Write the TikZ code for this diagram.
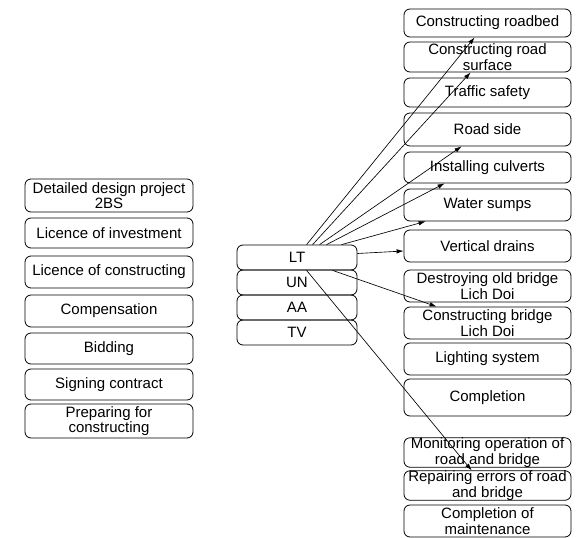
\documentclass[tikz,border=0pt]{standalone}
\usepackage{fontspec}
\setmainfont{Liberation Sans}
\usetikzlibrary{arrows.meta}
\tikzset{
  task/.style={draw=black, line width=0.8pt, rounded corners=6pt, inner sep=0pt, align=center,
    font=\fontsize{15}{15.5}\selectfont},
  lefttask/.style={task, minimum width=168pt},
  righttask/.style={task, minimum width=167pt},
  unit/.style={task, minimum width=120pt, minimum height=25pt},
  link/.style={line width=0.65pt, draw=black, -{Latex[length=7pt,width=4.5pt]}},
}

\begin{document}
\begin{tikzpicture}[x=1pt,y=-1pt]
\useasboundingbox (0,0) rectangle (579,538);
% preparation stage
\node[lefttask, minimum height=33pt] (design) at (109,195.5) {Detailed design project\\2BS};
\node[lefttask, minimum height=30pt] (invest) at (109,233) {Licence of investment};
\node[lefttask, minimum height=32pt] (licence) at (109,272) {Licence of constructing};
\node[lefttask, minimum height=32pt] (comp) at (109,311) {Compensation};
\node[lefttask, minimum height=31pt] (bid) at (109,348.5) {Bidding};
\node[lefttask, minimum height=31pt] (sign) at (109,384.5) {Signing contract};
\node[lefttask, minimum height=34pt] (prep) at (109,421) {Preparing for\\constructing};
% units
\node[unit] (LT) at (297,257.5) {LT};
\node[unit] (UN) at (297,282.5) {UN};
\node[unit] (AA) at (297,307.5) {AA};
\node[unit] (TV) at (297,332.5) {TV};
% construction stage
\node[righttask, minimum height=28pt] (roadbed) at (487.5,23) {Constructing roadbed};
\node[righttask, minimum height=30pt] (surface) at (487.5,57) {Constructing road\\surface};
\node[righttask, minimum height=29pt] (traffic) at (487.5,92.5) {Traffic safety};
\node[righttask, minimum height=33pt] (roadside) at (487.5,129.5) {Road side};
\node[righttask, minimum height=31pt] (culvert) at (487.5,167.5) {Installing culverts};
\node[righttask, minimum height=32pt] (sump) at (487.5,205) {Water sumps};
\node[righttask, minimum height=32pt] (drain) at (487.5,246) {Vertical drains};
\node[righttask, minimum height=32pt] (oldbridge) at (487.5,286) {Destroying old bridge\\Lich Doi};
\node[righttask, minimum height=32pt] (newbridge) at (487.5,323) {Constructing bridge\\Lich Doi};
\node[righttask, minimum height=32pt] (light) at (487.5,359) {Lighting system};
\node[righttask, minimum height=37pt] (done) at (487.5,397.5) {Completion};
% maintenance stage
\node[righttask, minimum height=29pt] (monitor) at (487.5,452.5) {Monitoring operation of\\road and bridge};
\node[righttask, minimum height=29pt] (repair) at (487.5,485.5) {Repairing errors of road\\and bridge};
\node[righttask, minimum height=32pt] (maint) at (487.5,521) {Completion of\\maintenance};
% links from LT
\draw[link] ([xshift=70pt]LT.north west) -- ([xshift=71pt]roadbed.south west);
\draw[link] ([xshift=76pt]LT.north west) -- ([xshift=67pt]surface.south west);
\draw[link] ([xshift=83pt]LT.north west) -- ([xshift=58pt]roadside.south west);
\draw[link] ([xshift=90pt]LT.north west) -- ([xshift=41pt]culvert.south west);
\draw[link] ([xshift=105pt]LT.north west) -- ([xshift=22pt]sump.south west);
\draw[link] ([yshift=4pt]LT.east) -- ([yshift=-5pt]drain.west);
\draw[link] ([xshift=96pt]LT.south west) -- ([xshift=33pt]newbridge.north west);
\draw[link] ([xshift=70pt]LT.south west) -- ([xshift=68pt]repair.north west);
\end{tikzpicture}
\end{document}
